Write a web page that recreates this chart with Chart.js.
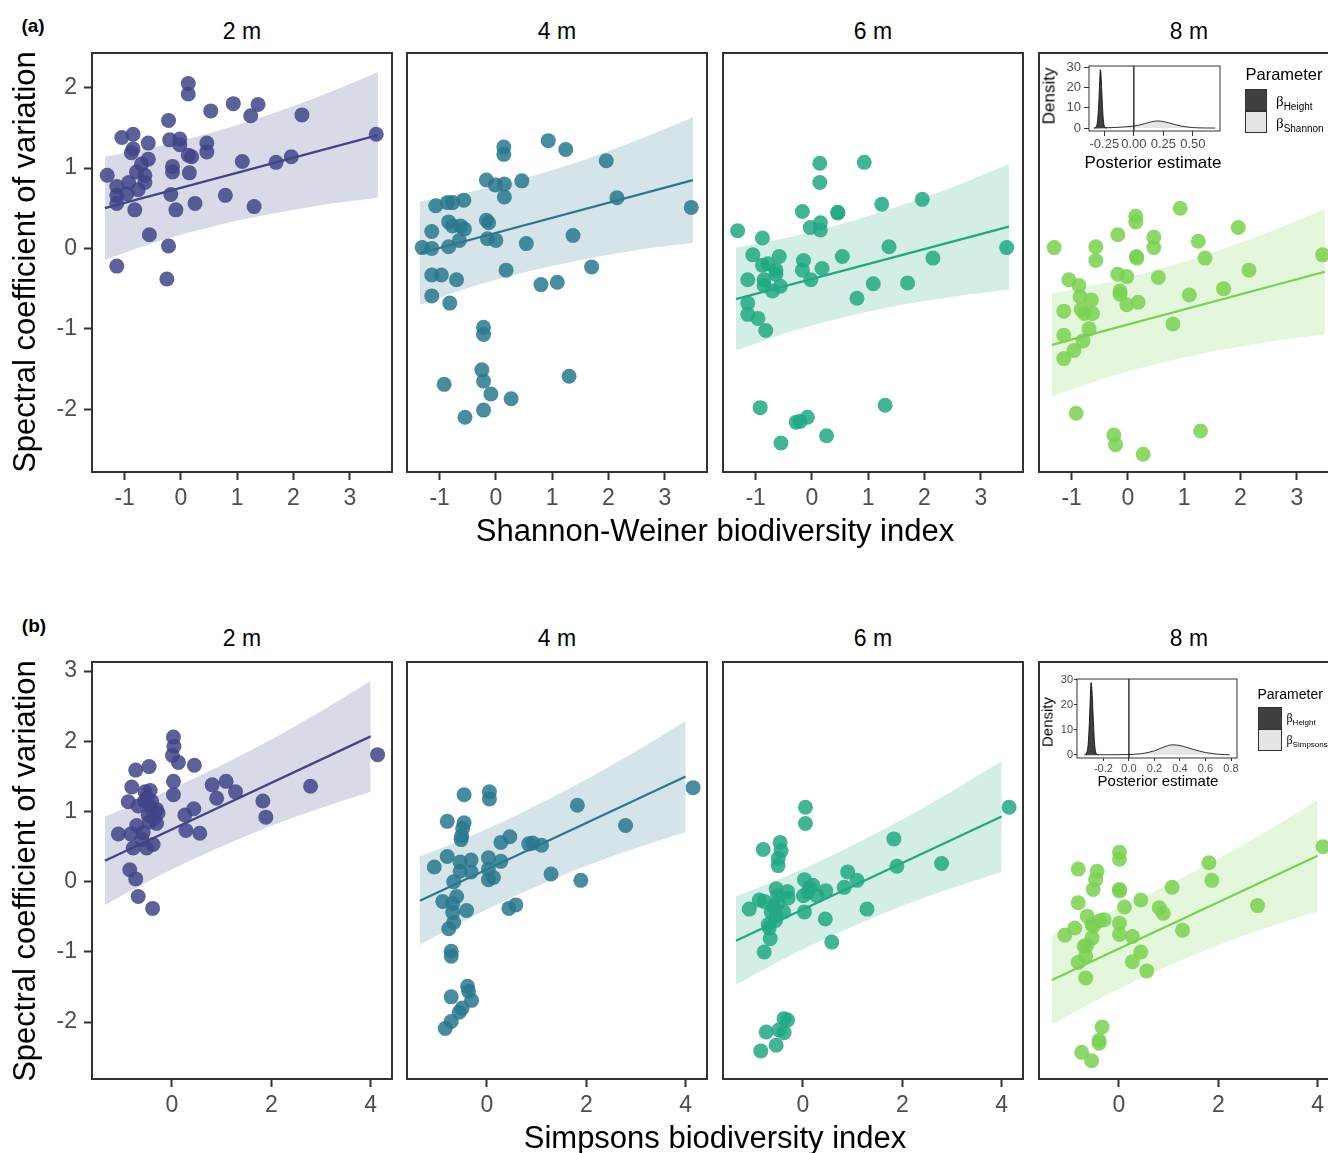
<!DOCTYPE html>
<html>
<head>
<meta charset="utf-8">
<title>Spectral coefficient of variation vs biodiversity</title>
<script src="https://cdn.jsdelivr.net/npm/chart.js@4.4.1/dist/chart.umd.min.js"></script>
<style>
html,body{margin:0;padding:0;background:#fff;}
body{width:1328px;height:1153px;overflow:hidden;position:relative;font-family:"Liberation Sans",Arial,Helvetica,sans-serif;}
canvas{position:absolute;}
.t{position:absolute;white-space:nowrap;line-height:1;transform:translate(-50%,-50%);color:#000;}
.r{position:absolute;white-space:nowrap;line-height:1;transform:translate(-50%,-50%) rotate(-90deg);color:#000;}
.l{position:absolute;white-space:nowrap;line-height:1;transform:translate(0,-50%);color:#000;}
.key{position:absolute;box-sizing:border-box;border:1px solid #333;}
.beta{font-family:"Liberation Serif","DejaVu Serif",serif;}
sub{font-family:"Liberation Sans",Arial,sans-serif;vertical-align:-0.35em;line-height:0;}
</style>
</head>
<body>
<script>
// ---------------- labels / ticks ----------------
const heightLabels = ['2 m', '4 m', '6 m', '8 m'];
const panelColors = ['#414487', '#2A788E', '#22A884', '#7AD151'];
const shannonTicks = [-1, 0, 1, 2, 3];
const simpsonsTicks = [0, 2, 4];
const cvTicksTop = [-2, -1, 0, 1, 2];
const cvTicksBottom = [-2, -1, 0, 1, 2, 3];

// ---------------- (a) Shannon-Weiner panels ----------------
const shannon2mX = [-1.31,-1.14,-1.14,-1.14,-1.14,-1.05,-0.85,-0.85,-0.88,-0.93,-0.96,-0.76,-0.82,-0.79,-0.70,-0.64,-0.64,-0.58,-0.58,-0.56,-0.22,-0.20,-0.15,-0.15,-0.18,-0.22,-0.25,-0.02,-0.02,-0.09,0.13,0.13,0.13,0.19,0.15,0.25,0.46,0.46,0.53,0.93,1.09,0.79,1.24,1.37,1.30,1.69,1.96,2.15,3.47];
const cvShannon2m = [0.91,0.77,0.66,0.56,-0.22,1.38,1.42,1.24,1.19,0.82,0.68,0.73,0.48,0.95,1.05,0.91,0.82,1.31,1.11,0.17,1.59,1.35,1.02,0.95,0.67,0.03,-0.38,1.36,1.29,0.48,2.05,1.92,1.16,1.14,0.94,0.56,1.31,1.20,1.71,1.80,1.08,0.66,1.65,1.79,0.52,1.07,1.14,1.66,1.42];

const shannon4mX = [-1.31,-1.14,-1.14,-1.07,-0.86,-0.77,-0.57,-0.84,-0.77,-0.63,-0.56,-0.84,-0.65,-1.14,-0.97,-0.70,-1.14,-0.82,-0.17,-0.01,0.14,0.14,0.15,0.15,0.46,-0.17,-0.13,-0.15,0.00,0.18,0.54,0.93,1.24,1.37,0.80,1.09,1.70,1.96,2.15,3.47,-0.22,-0.22,-0.25,-0.22,-0.09,0.27,-0.22,-0.55,-0.92,1.30];
const cvShannon4m = [0.01,0.00,0.21,0.53,0.57,0.57,0.60,0.33,0.28,0.28,0.24,0.02,0.10,-0.33,-0.33,-0.39,-0.59,-0.68,0.85,0.79,1.26,1.17,0.80,0.64,0.84,0.35,0.32,0.12,0.10,-0.27,0.06,1.34,1.23,0.16,-0.45,-0.42,-0.23,1.09,0.63,0.51,-0.98,-1.07,-1.51,-1.65,-1.81,-1.87,-2.01,-2.10,-1.69,-1.59];

const shannon6mX = [-1.32,-0.88,-1.05,-1.14,-1.14,-1.14,-0.96,-0.82,-0.88,-0.78,-0.64,-0.58,-0.85,-0.85,-0.70,-0.56,-0.64,-0.17,-0.03,0.14,0.14,0.15,0.15,0.46,-0.15,-0.17,-0.02,0.18,0.54,0.93,1.24,1.37,0.80,1.09,1.70,1.96,2.15,3.46,-0.92,-0.28,-0.21,-0.08,-0.55,0.26,1.30,0.46];
const cvShannon6m = [0.22,0.13,-0.08,-0.39,-0.68,-0.82,-0.87,-1.02,-0.21,-0.19,-0.27,-0.10,-0.39,-0.46,-0.53,-0.47,-0.32,0.46,0.26,1.06,0.82,0.32,0.23,0.44,-0.15,-0.27,-0.39,-0.25,-0.10,1.07,0.55,0.02,-0.62,-0.44,-0.43,0.61,-0.12,0.01,-1.98,-2.16,-2.15,-2.10,-2.42,-2.33,-1.95,0.45];

const shannon8mX = [-1.31,-1.14,-1.14,-1.14,-1.05,-0.87,-0.85,-0.83,-0.77,-0.65,-0.63,-0.69,-0.80,-0.96,-0.57,-0.57,-0.18,-0.18,-0.14,-0.14,-0.02,-0.02,0.14,0.14,0.15,0.16,0.18,0.46,0.46,0.54,0.93,1.25,1.37,0.80,1.09,1.70,1.96,2.15,3.46,-0.92,-0.25,-0.22,0.27,1.29];
const cvShannon8m = [0.01,-0.78,-1.08,-1.37,-0.39,-0.46,-0.60,-0.76,-0.81,-0.64,-0.81,-1.00,-1.15,-1.27,0.02,-0.15,0.17,-0.32,-0.53,-0.57,-0.35,-0.70,0.40,0.33,-0.10,-0.12,-0.67,0.14,0.01,-0.36,0.50,0.09,-0.12,-0.94,-0.58,-0.50,0.26,-0.27,-0.08,-2.05,-2.32,-2.44,-2.56,-2.27];

const shannonFitX = [-1.35, 3.5];
const shannonFit2m = [0.50, 1.41];
const shannonFit4m = [-0.06, 0.85];
const shannonFit6m = [-0.63, 0.27];
const shannonFit8m = [-1.20, -0.29];

const shannonBandX = [-1.35, -0.4, 0.6, 1.6, 2.6, 3.5];
const shannonHi2m = [1.14, 1.27, 1.45, 1.67, 1.93, 2.19];
const shannonLo2m = [-0.14, 0.09, 0.28, 0.43, 0.55, 0.63];
const shannonHi4m = [0.58, 0.71, 0.89, 1.11, 1.37, 1.63];
const shannonLo4m = [-0.70, -0.47, -0.28, -0.13, -0.01, 0.07];
const shannonHi6m = [0.01, 0.14, 0.32, 0.54, 0.79, 1.05];
const shannonLo6m = [-1.27, -1.04, -0.85, -0.70, -0.59, -0.51];
const shannonHi8m = [-0.56, -0.43, -0.25, -0.03, 0.23, 0.49];
const shannonLo8m = [-1.84, -1.61, -1.42, -1.27, -1.15, -1.07];

// ---------------- (b) Simpsons panels ----------------
const simpsons2mX = [-1.08,-0.88,-0.81,-0.73,-0.46,-0.83,-0.78,-0.71,-0.68,-0.61,-0.51,-0.54,-0.44,-0.48,-0.41,-0.31,-0.31,-0.28,-0.38,-0.41,-0.85,-0.73,-0.68,-0.39,0.03,0.04,0.01,0.13,0.03,0.03,0.45,0.26,0.44,0.28,0.56,0.81,0.90,1.09,1.28,1.83,1.89,2.79,4.14,-0.55,-0.45,-0.58,-0.36,-0.50];
const cvSimpsons2m = [0.68,1.14,1.35,1.59,1.64,0.68,0.48,0.80,1.08,0.60,0.48,1.28,1.30,0.95,1.05,1.03,0.83,0.98,0.53,1.15,0.17,0.04,-0.21,-0.38,2.06,1.93,1.80,1.70,1.43,1.24,1.66,0.95,1.04,0.73,0.69,1.38,1.19,1.43,1.28,1.15,0.92,1.36,1.81,1.15,0.85,0.70,0.90,1.20];

const simpsons4mX = [-1.06,-0.80,-0.80,-0.46,-0.46,-0.49,-0.51,-0.52,-0.54,-0.32,-0.54,-0.32,-0.67,-0.89,-0.61,-0.69,-0.69,-0.41,-0.67,-0.77,-0.72,-0.72,-0.72,-0.39,-0.37,-0.31,-0.50,-0.56,-0.72,-0.84,0.05,0.05,0.03,0.03,0.03,0.13,0.28,0.28,0.46,0.84,0.92,1.10,0.44,0.58,1.29,1.82,1.89,2.79,4.15];
const cvSimpsons4m = [0.21,0.36,0.86,1.24,0.84,0.76,0.65,0.60,0.28,0.31,0.15,0.14,0.00,-0.28,-0.21,-0.31,-0.44,-0.41,-0.58,-0.67,-0.99,-1.06,-1.64,-1.49,-1.56,-1.69,-1.80,-1.86,-1.99,-2.09,1.28,1.18,0.34,0.18,0.03,0.06,0.29,0.56,0.64,0.54,0.55,0.52,-0.38,-0.33,0.11,1.09,0.02,0.80,1.34];

const simpsons6mX = [-1.08,-0.88,-0.80,-0.46,-0.44,-0.50,-0.50,-0.78,-0.54,-0.51,-0.31,-0.30,-0.64,-0.39,-0.54,-0.70,-0.68,-0.66,-0.78,0.05,0.05,0.03,0.01,0.03,0.13,0.28,0.46,0.83,0.90,1.09,0.45,0.58,1.29,1.83,1.89,2.79,4.15,-0.74,-0.85,-0.54,-0.48,-0.38,-0.31,-0.38,-0.60,-0.50,0.10,0.20,-0.55];
const cvSimpsons6m = [-0.39,-0.26,0.46,0.56,0.44,0.33,0.23,-0.28,-0.10,-0.20,-0.14,-0.23,-0.43,-0.43,-0.48,-0.61,-0.66,-0.81,-1.00,1.06,0.83,0.03,-0.20,-0.43,-0.09,-0.20,-0.13,-0.08,0.14,0.02,-0.53,-0.86,-0.39,0.61,0.22,0.26,1.06,-2.14,-2.41,-2.33,-2.11,-1.95,-1.97,-2.15,-0.35,-0.30,-0.15,-0.05,-0.55];

const simpsons8mX = [-1.09,-0.89,-0.82,-0.82,-0.64,-0.54,-0.54,-0.70,-0.67,-0.82,-0.67,-0.44,-0.47,-0.52,-0.40,-0.30,0.01,0.01,0.01,0.01,0.01,0.11,0.27,0.27,0.44,0.44,0.56,0.81,0.89,1.07,1.28,1.81,1.87,2.79,4.11,-0.34,-0.40,-0.40,-0.75,-0.55,-0.52,-0.65,0.01];
const cvSimpsons8m = [-0.76,-0.66,0.18,-0.30,-0.49,-0.61,-0.80,-0.92,-1.06,-1.15,-1.37,0.15,0.03,-0.11,-0.56,-0.54,0.42,0.32,-0.11,-0.59,-0.75,-0.36,-0.78,-1.14,-1.00,-0.26,-1.27,-0.37,-0.45,-0.08,-0.69,0.27,0.02,-0.34,0.50,-2.07,-2.26,-2.30,-2.43,-2.55,-0.63,-0.91,-0.13];

const simpsonsFitX = [-1.35, 4.0];
const simpsonsFit2m = [0.30, 2.07];
const simpsonsFit4m = [-0.27, 1.50];
const simpsonsFit6m = [-0.84, 0.93];
const simpsonsFit8m = [-1.40, 0.37];

const simpsonsBandX = [-1.35, -0.3, 0.8, 1.9, 3.0, 4.0];
const simpsonsHi2m = [0.93, 1.23, 1.59, 1.99, 2.43, 2.86];
const simpsonsLo2m = [-0.33, 0.07, 0.44, 0.77, 1.05, 1.28];
const simpsonsHi4m = [0.36, 0.66, 1.02, 1.42, 1.86, 2.29];
const simpsonsLo4m = [-0.90, -0.50, -0.13, 0.20, 0.48, 0.71];
const simpsonsHi6m = [-0.21, 0.09, 0.45, 0.85, 1.29, 1.72];
const simpsonsLo6m = [-1.47, -1.07, -0.70, -0.37, -0.09, 0.14];
const simpsonsHi8m = [-0.77, -0.47, -0.11, 0.29, 0.73, 1.16];
const simpsonsLo8m = [-2.03, -1.63, -1.26, -0.93, -0.65, -0.42];

// ---------------- inset posterior densities ----------------
const postTicksA = [-0.25, 0, 0.25, 0.5];
const postTicksB = [-0.2, 0, 0.2, 0.4, 0.6, 0.8];
const densityTicks = [0, 10, 20, 30];
const heightDensXA = [-0.335,-0.32,-0.305,-0.295,-0.288,-0.284,-0.278,-0.27,-0.26,-0.25,-0.24,-0.23];
const heightDensYA = [0, 0.5, 5, 15, 25, 28.8, 26, 16, 5, 1, 0.2, 0];
const shannonDensX = [-0.34,-0.25,-0.15,-0.05,0,0.05,0.1,0.15,0.2,0.25,0.3,0.35,0.4,0.45,0.5,0.55,0.6,0.69];
const shannonDensY = [0.02,0.1,0.3,0.7,1.0,1.5,2.3,3.1,3.5,3.2,2.5,1.7,1.0,0.55,0.25,0.1,0.04,0];
const heightDensXB = [-0.35,-0.335,-0.32,-0.31,-0.302,-0.297,-0.29,-0.28,-0.27,-0.26,-0.25,-0.24];
const heightDensYB = [0, 0.5, 4, 13, 24, 29, 26, 15, 5, 1, 0.2, 0];
const simpsonsDensX = [-0.34,-0.1,0,0.05,0.1,0.15,0.2,0.25,0.3,0.34,0.4,0.45,0.5,0.55,0.6,0.65,0.7,0.79];
const simpsonsDensY = [0,0.03,0.1,0.2,0.45,0.9,1.6,2.6,3.6,4.0,3.7,3.0,2.2,1.5,0.9,0.5,0.2,0];

// ---------------- drawing ----------------
Chart.defaults.font.family = '"Liberation Sans", Arial, Helvetica, sans-serif';

function rgba(hex, a) {
  const n = parseInt(hex.slice(1), 16);
  return 'rgba(' + ((n >> 16) & 255) + ',' + ((n >> 8) & 255) + ',' + (n & 255) + ',' + a + ')';
}
function pts(xs, ys) { return xs.map((x, i) => ({ x: x, y: ys[i] })); }
function noPad(s) { s.paddingTop = 0; s.paddingBottom = 0; s.paddingLeft = 0; s.paddingRight = 0; }

const borderPlugin = {
  id: 'panelBorder',
  afterDraw(chart, args, opts) {
    const a = chart.chartArea, ctx = chart.ctx;
    ctx.save();
    ctx.strokeStyle = opts.color || '#333333';
    ctx.lineWidth = opts.width || 2;
    ctx.strokeRect(a.left, a.top, a.right - a.left, a.bottom - a.top);
    ctx.restore();
  }
};

function addCanvas(left, top, w, h) {
  const c = document.createElement('canvas');
  c.width = w; c.height = h;
  c.style.width = w + 'px'; c.style.height = h + 'px';
  c.style.left = left + 'px'; c.style.top = top + 'px';
  document.body.appendChild(c);
  return c;
}

const PAD = 3, YAXIS_W = 60, XAXIS_H = 50, PANEL_W = 300;
const COL_LEFT = [92, 407, 723, 1039];
const ROWS = [
  { top: 53, h: 419, xMin: -1.58, xMax: 3.75, yMin: -2.78, yMax: 2.43, xTicks: shannonTicks, yTicks: cvTicksTop },
  { top: 662, h: 417, xMin: -1.61, xMax: 4.43, yMin: -2.81, yMax: 3.13, xTicks: simpsonsTicks, yTicks: cvTicksBottom }
];

function makePanel(row, col, xs, ys, bandX, hi, lo, fitX, fitY) {
  const R = ROWS[row];
  const showY = col === 0;
  const leftSpace = showY ? YAXIS_W : PAD;
  const w = leftSpace + PANEL_W + PAD, h = PAD + R.h + XAXIS_H;
  const c = addCanvas(COL_LEFT[col] - leftSpace, R.top - PAD, w, h);
  const color = panelColors[col];
  new Chart(c, {
    type: 'line',
    data: {
      datasets: [
        { data: pts(bandX, hi), fill: '+1', backgroundColor: rgba(color, 0.2), borderColor: 'rgba(0,0,0,0)', borderWidth: 0, pointRadius: 0, tension: 0.3, order: 3 },
        { data: pts(bandX, lo), fill: false, borderColor: 'rgba(0,0,0,0)', borderWidth: 0, pointRadius: 0, tension: 0.3, order: 3 },
        { data: pts(xs, ys), showLine: false, pointRadius: 7.5, pointBackgroundColor: rgba(color, 0.85), pointBorderWidth: 0, pointBorderColor: 'rgba(0,0,0,0)', order: 2 },
        { data: pts(fitX, fitY), borderColor: color, borderWidth: 2.3, pointRadius: 0, fill: false, order: 1 }
      ]
    },
    options: {
      responsive: false, maintainAspectRatio: false, animation: false, events: [], devicePixelRatio: 1,
      layout: { autoPadding: false, padding: { left: showY ? 0 : PAD, right: PAD, top: PAD, bottom: 0 } },
      plugins: { legend: { display: false }, tooltip: { enabled: false }, panelBorder: { width: 2, color: '#333333' } },
      scales: {
        x: {
          type: 'linear', min: R.xMin, max: R.xMax,
          afterBuildTicks: s => { s.ticks = R.xTicks.map(v => ({ value: v })); },
          afterFit: s => { s.height = XAXIS_H; noPad(s); },
          border: { display: false },
          grid: { drawOnChartArea: false, drawTicks: true, tickLength: 8, tickWidth: 2, tickColor: '#333333' },
          ticks: { autoSkip: false, maxRotation: 0, minRotation: 0, padding: 5, color: '#4d4d4d', font: { size: 23 }, callback: v => String(v) }
        },
        y: {
          type: 'linear', display: showY, min: R.yMin, max: R.yMax,
          afterBuildTicks: s => { s.ticks = R.yTicks.map(v => ({ value: v })); },
          afterFit: s => { s.width = showY ? YAXIS_W : 0; noPad(s); },
          border: { display: false },
          grid: { drawOnChartArea: false, drawTicks: true, tickLength: 8, tickWidth: 2, tickColor: '#333333' },
          ticks: { autoSkip: false, padding: 7, color: '#4d4d4d', font: { size: 23 }, callback: v => String(v) }
        }
      }
    },
    plugins: [borderPlugin]
  });
}

makePanel(0, 0, shannon2mX, cvShannon2m, shannonBandX, shannonHi2m, shannonLo2m, shannonFitX, shannonFit2m);
makePanel(0, 1, shannon4mX, cvShannon4m, shannonBandX, shannonHi4m, shannonLo4m, shannonFitX, shannonFit4m);
makePanel(0, 2, shannon6mX, cvShannon6m, shannonBandX, shannonHi6m, shannonLo6m, shannonFitX, shannonFit6m);
makePanel(0, 3, shannon8mX, cvShannon8m, shannonBandX, shannonHi8m, shannonLo8m, shannonFitX, shannonFit8m);
makePanel(1, 0, simpsons2mX, cvSimpsons2m, simpsonsBandX, simpsonsHi2m, simpsonsLo2m, simpsonsFitX, simpsonsFit2m);
makePanel(1, 1, simpsons4mX, cvSimpsons4m, simpsonsBandX, simpsonsHi4m, simpsonsLo4m, simpsonsFitX, simpsonsFit4m);
makePanel(1, 2, simpsons6mX, cvSimpsons6m, simpsonsBandX, simpsonsHi6m, simpsonsLo6m, simpsonsFitX, simpsonsFit6m);
makePanel(1, 3, simpsons8mX, cvSimpsons8m, simpsonsBandX, simpsonsHi8m, simpsonsLo8m, simpsonsFitX, simpsonsFit8m);

function makeInset(s) {
  const w = s.yAxisW + s.areaW + 6, h = 8 + s.areaH + s.xAxisH;
  const c = addCanvas(s.areaLeft - s.yAxisW, s.areaTop - 8, w, h);
  new Chart(c, {
    type: 'line',
    data: {
      datasets: [
        { data: pts(s.lightX, s.lightY), fill: 'origin', backgroundColor: '#e5e5e5', borderColor: '#000', borderWidth: 0.8, pointRadius: 0, cubicInterpolationMode: 'monotone', order: 3 },
        { data: pts(s.darkX, s.darkY), fill: 'origin', backgroundColor: '#404040', borderColor: '#000', borderWidth: 0.8, pointRadius: 0, cubicInterpolationMode: 'monotone', order: 2 },
        { data: pts([0, 0], [s.yMin, s.yMax]), borderColor: '#000', borderWidth: 1.2, pointRadius: 0, fill: false, order: 1 }
      ]
    },
    options: {
      responsive: false, maintainAspectRatio: false, animation: false, events: [], devicePixelRatio: 1,
      layout: { autoPadding: false, padding: { left: 0, right: 6, top: 8, bottom: 0 } },
      plugins: { legend: { display: false }, tooltip: { enabled: false }, panelBorder: { width: 1, color: '#333333' } },
      scales: {
        x: {
          type: 'linear', min: s.xMin, max: s.xMax,
          afterBuildTicks: sc => { sc.ticks = s.xTicks.map(v => ({ value: v })); },
          afterFit: sc => { sc.height = s.xAxisH; noPad(sc); },
          border: { display: false },
          grid: { drawOnChartArea: false, tickLength: s.tickLen, tickWidth: 1, tickColor: '#333333' },
          ticks: { autoSkip: false, maxRotation: 0, minRotation: 0, padding: 1, color: '#4d4d4d', font: { size: s.font }, callback: v => v.toFixed(s.dec) }
        },
        y: {
          type: 'linear', min: s.yMin, max: s.yMax,
          afterBuildTicks: sc => { sc.ticks = densityTicks.map(v => ({ value: v })); },
          afterFit: sc => { sc.width = s.yAxisW; noPad(sc); },
          border: { display: false },
          grid: { drawOnChartArea: false, tickLength: s.tickLen, tickWidth: 1, tickColor: '#333333' },
          ticks: { autoSkip: false, padding: s.yPad, color: '#4d4d4d', font: { size: s.font }, callback: v => String(v) }
        }
      }
    },
    plugins: [borderPlugin]
  });
}

makeInset({ areaLeft: 1089, areaTop: 66, areaW: 131, areaH: 65, yAxisW: 32, xAxisH: 22, xMin: -0.38, xMax: 0.73, yMin: -1.45, yMax: 30.6,
  xTicks: postTicksA, dec: 2, font: 13, tickLen: 5, yPad: 3,
  lightX: shannonDensX, lightY: shannonDensY, darkX: heightDensXA, darkY: heightDensYA });
makeInset({ areaLeft: 1077, areaTop: 679, areaW: 160, areaH: 79, yAxisW: 26, xAxisH: 20, xMin: -0.407, xMax: 0.847, yMin: -1.3, yMax: 30.4,
  xTicks: postTicksB, dec: 1, font: 11, tickLen: 3, yPad: 1,
  lightX: simpsonsDensX, lightY: simpsonsDensY, darkX: heightDensXB, darkY: heightDensYB });

// ---------------- text ----------------
function txt(cls, html, x, y, size, extra) {
  const d = document.createElement('div');
  d.className = cls;
  d.innerHTML = html;
  d.style.left = x + 'px'; d.style.top = y + 'px'; d.style.fontSize = size + 'px';
  if (extra) Object.assign(d.style, extra);
  document.body.appendChild(d);
  return d;
}
txt('t', '(a)', 33, 25, 19, { fontWeight: 'bold' });
txt('t', '(b)', 34, 625, 19, { fontWeight: 'bold' });
const stripCenters = [242, 557, 873, 1189];
heightLabels.forEach((lab, i) => { txt('t', lab, stripCenters[i], 31, 23); txt('t', lab, stripCenters[i], 638, 23); });
txt('r', 'Spectral coefficient of variation', 24, 262, 31);
txt('r', 'Spectral coefficient of variation', 24, 871, 31);
txt('t', 'Shannon-Weiner biodiversity index', 715, 529.5, 31);
txt('t', 'Simpsons biodiversity index', 715, 1137, 31);

// inset titles
txt('r', 'Density', 1049, 96, 17);
txt('t', 'Posterior estimate', 1153, 162, 17);
txt('r', 'Density', 1047, 722, 15);
txt('t', 'Posterior estimate', 1158, 780, 15);

// inset legends
txt('l', 'Parameter', 1245.5, 73.5, 16.5);
function key(x, y, w, h, bg) {
  const d = document.createElement('div');
  d.className = 'key';
  Object.assign(d.style, { left: x + 'px', top: y + 'px', width: w + 'px', height: h + 'px', background: bg });
  document.body.appendChild(d);
}
key(1245, 89, 22, 22, '#404040');
key(1245, 110.5, 22, 22, '#e5e5e5');
txt('l', '<span class="beta">β</span><sub style="font-size:10px">Height</sub>', 1276, 100.5, 15);
txt('l', '<span class="beta">β</span><sub style="font-size:10px">Shannon</sub>', 1276, 123, 15);

txt('l', 'Parameter', 1257.5, 693.5, 14);
key(1257.5, 707, 24, 22.5, '#404040');
key(1257.5, 728.5, 24, 22.5, '#e5e5e5');
txt('l', '<span class="beta">β</span><sub style="font-size:8px">Height</sub>', 1286.5, 718, 12);
txt('l', '<span class="beta">β</span><sub style="font-size:8px">Simpsons</sub>', 1286.5, 740, 12);
</script>
</body>
</html>
